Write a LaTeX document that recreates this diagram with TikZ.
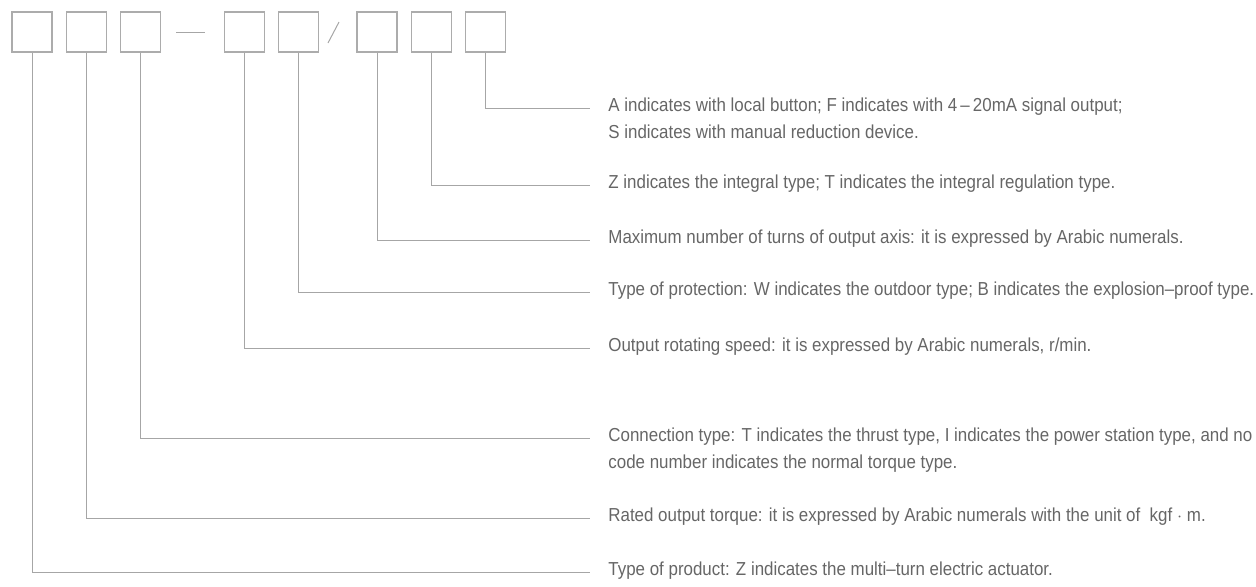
\documentclass[tikz,border=0pt]{standalone}
\usepackage{fontspec}
\setmainfont{Liberation Sans}[FakeStretch=0.9]
\usepackage{tikz}
\usetikzlibrary{positioning}

\begin{document}
\begin{tikzpicture}[
        x=0.5pt, y=-0.5pt,
        node distance=6.5pt,
        codebox/.style={rectangle, draw=gray!65, line width=0.6pt, minimum size=20pt, inner sep=0pt},
        note/.style={anchor=north west, inner sep=0pt, align=left, text=black!60, font=\fontsize{9.4}{13.5}\selectfont},
        lead/.style={draw=gray!70, line width=0.5pt}
    ]
    \useasboundingbox (0,0) rectangle (1256,586);

    % Code boxes
    \node[codebox] (b1) at (32,32) {};
    \node[codebox, right=of b1] (b2) {};
    \node[codebox, right=of b2] (b3) {};
    \node[codebox, right=31.5pt of b3] (b4) {};
    \node[codebox, right=of b4] (b5) {};
    \node[codebox, right=18.5pt of b5] (b6) {};
    \node[codebox, right=of b6] (b7) {};
    \node[codebox, right=of b7] (b8) {};

    % Separators
    \draw[lead] (176,32) -- (205,32);
    \draw[lead] (328,43) -- (339,22);

    % Line ends
    \coordinate (e8) at (590,108);
    \coordinate (e7) at (590,185);
    \coordinate (e6) at (590,240);
    \coordinate (e5) at (590,292);
    \coordinate (e4) at (590,348);
    \coordinate (e3) at (590,438);
    \coordinate (e2) at (590,518);
    \coordinate (e1) at (590,572);

    % Explanations
    \node[note] (t8) at ([xshift=9pt, yshift=5.2pt]e8) {A indicates with local button; F indicates with 4\,--\,20mA signal output;\\S indicates with manual reduction device.};
    \node[note] (t7) at ([xshift=9pt, yshift=5.2pt]e7) {Z indicates the integral type; T indicates the integral regulation type.};
    \node[note] (t6) at ([xshift=9pt, yshift=5.2pt]e6) {Maximum number of turns of output axis: it is expressed by Arabic numerals.};
    \node[note] (t5) at ([xshift=9pt, yshift=5.2pt]e5) {Type of protection: W indicates the outdoor type; B indicates the explosion--proof type.};
    \node[note] (t4) at ([xshift=9pt, yshift=5.2pt]e4) {Output rotating speed: it is expressed by Arabic numerals, r/min.};
    \node[note] (t3) at ([xshift=9pt, yshift=5.2pt]e3) {Connection type: T indicates the thrust type, I indicates the power station type, and no\\code number indicates the normal torque type.};
    \node[note] (t2) at ([xshift=9pt, yshift=5.2pt]e2) {Rated output torque: it is expressed by Arabic numerals with the unit of \ kgf $\cdot$ m.};
    \node[note] (t1) at ([xshift=9pt, yshift=5.2pt]e1) {Type of product: Z indicates the multi--turn electric actuator.};

    % Leaders
    \draw[lead] (b8.south) |- (e8);
    \draw[lead] (b7.south) |- (e7);
    \draw[lead] (b6.south) |- (e6);
    \draw[lead] (b5.south) |- (e5);
    \draw[lead] (b4.south) |- (e4);
    \draw[lead] (b3.south) |- (e3);
    \draw[lead] (b2.south) |- (e2);
    \draw[lead] (b1.south) |- (e1);

\end{tikzpicture}
\end{document}
